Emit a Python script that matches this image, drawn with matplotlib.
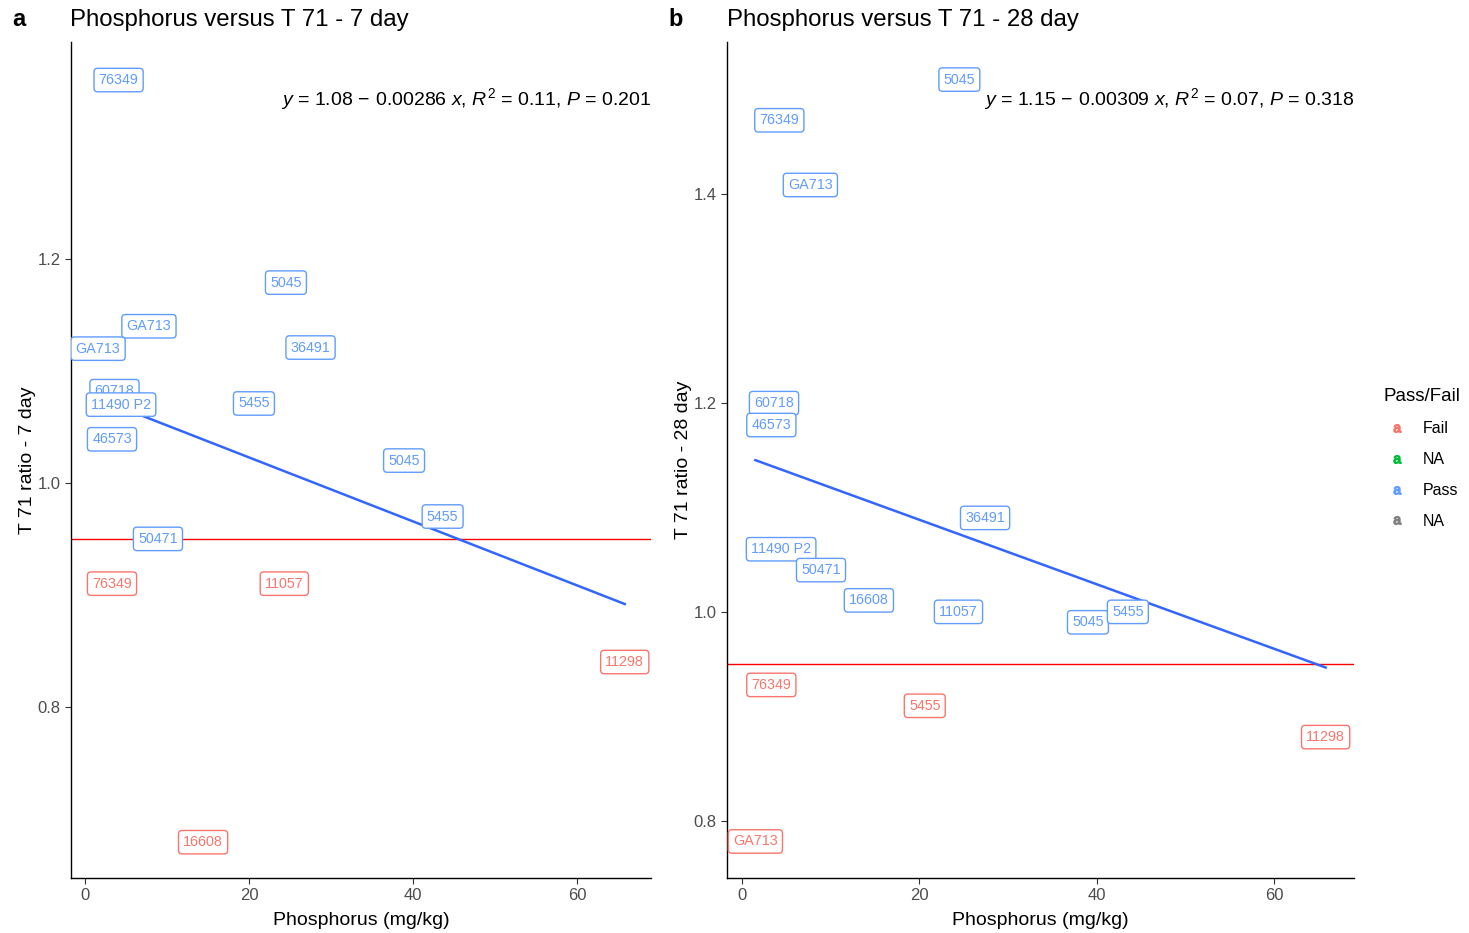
import numpy as np
import matplotlib
matplotlib.use("Agg")
import matplotlib.pyplot as plt
from matplotlib.lines import Line2D

plt.rcParams["font.family"] = ["Liberation Sans", "DejaVu Sans"]
plt.rcParams["mathtext.fontset"] = "custom"
plt.rcParams["mathtext.rm"] = "Liberation Sans"
plt.rcParams["mathtext.it"] = "Liberation Sans:italic"

PASS_COL = "#619CFF"
FAIL_COL = "#F8766D"

# panel a: T 71 ratio at 7 days (label positions as drawn)
a_names = ["76349", "5045", "GA713", "GA713", "36491", "60718", "11490 P2", "5455",
           "46573", "5045", "5455", "50471", "76349", "11057", "11298", "16608"]
a_x = [4.1, 24.5, 7.8, 1.6, 27.5, 3.6, 4.4, 20.6, 3.3, 38.9, 43.6, 8.9, 3.3, 24.3, 65.8, 14.4]
a_y = [1.360, 1.179, 1.140, 1.120, 1.121, 1.082, 1.070, 1.071, 1.039, 1.020, 0.970,
       0.950, 0.910, 0.910, 0.840, 0.679]
a_status = ["Pass"] * 12 + ["Fail"] * 4
a_fit = (1.08, -0.00286)

# panel b: T 71 ratio at 28 days
b_names = ["5045", "76349", "GA713", "60718", "46573", "36491", "11490 P2", "50471",
           "16608", "11057", "5045", "5455", "76349", "5455", "11298", "GA713"]
b_x = [24.5, 4.2, 7.7, 3.6, 3.3, 27.4, 4.4, 8.9, 14.3, 24.4, 39.0, 43.5, 3.3, 20.6, 65.8, 1.5]
b_y = [1.510, 1.471, 1.409, 1.200, 1.179, 1.090, 1.060, 1.040, 1.011, 1.000, 0.990,
       1.000, 0.930, 0.910, 0.880, 0.780]
b_status = ["Pass"] * 12 + ["Fail"] * 4
b_fit = (1.15, -0.00309)

threshold = 0.95


def draw_panel(ax, names, xs, ys, status, fit, ylim, yticks, ylabel, eq):
	ax.set_xlim(-1.7, 69.0)
	ax.set_ylim(*ylim)
	ax.axhline(threshold, color="red", lw=1.0, zorder=2)
	xl = np.linspace(min(xs), max(xs), 50)
	ax.plot(xl, fit[0] + fit[1] * xl, color="#3366FF", lw=1.8, zorder=3)
	for i, (n, x, y, s) in enumerate(zip(names, xs, ys, status)):
		c = PASS_COL if s == "Pass" else FAIL_COL
		ax.text(x, y, n, color=c, fontsize=10.3, ha="center", va="center",
			zorder=4 + i, clip_on=True,
			bbox=dict(boxstyle="round,pad=0.33,rounding_size=0.25", fc="white", ec=c, lw=1.0))
	ax.set_xticks([0, 20, 40, 60])
	ax.set_yticks(yticks)
	ax.set_yticklabels([f"{t:.1f}" for t in yticks])
	for side in ["top", "right"]:
		ax.spines[side].set_visible(False)
	for side in ["left", "bottom"]:
		ax.spines[side].set_linewidth(1.0)
	ax.tick_params(length=4, width=0.8, color="#333333", labelcolor="#4D4D4D", labelsize=12)
	ax.set_xlabel("Phosphorus (mg/kg)", fontsize=14, labelpad=6)
	ax.set_ylabel(ylabel, fontsize=14, labelpad=1)
	ax.text(1.0, 0.932, eq, transform=ax.transAxes, ha="right", va="center", fontsize=14)


fig = plt.figure(figsize=(14.69, 9.33), dpi=100)
ax1 = fig.add_axes([71 / 1469, 55 / 933, 580 / 1469, 836 / 933])
ax2 = fig.add_axes([727 / 1469, 55 / 933, 627 / 1469, 836 / 933])

draw_panel(ax1, a_names, a_x, a_y, a_status, a_fit, (0.647, 1.394), [0.8, 1.0, 1.2],
	"T 71 ratio - 7 day",
	r"$y$ = 1.08$\,-\,$0.00286 $x$, $R^2$ = 0.11, $P$ = 0.201")
draw_panel(ax2, b_names, b_x, b_y, b_status, b_fit, (0.745, 1.546), [0.8, 1.0, 1.2, 1.4],
	"T 71 ratio - 28 day",
	r"$y$ = 1.15$\,-\,$0.00309 $x$, $R^2$ = 0.07, $P$ = 0.318")

fig.text(12 / 1469, 1 - 20 / 933, "a", fontsize=17, fontweight="bold", va="center")
fig.text(70 / 1469, 1 - 20 / 933, "Phosphorus versus T 71 - 7 day", fontsize=17.3, va="center")
fig.text(668 / 1469, 1 - 20 / 933, "b", fontsize=17, fontweight="bold", va="center")
fig.text(727 / 1469, 1 - 20 / 933, "Phosphorus versus T 71 - 28 day", fontsize=17.3, va="center")

legend_labels = ["Fail", "NA", "Pass", "NA"]
legend_colors = [FAIL_COL, "#00BA38", PASS_COL, "#7F7F7F"]
handles = [Line2D([], [], ls="none", marker=r"$\mathrm{a}$", markersize=5.5, color=c)
	for c in legend_colors]
fig.legend(handles, legend_labels, title="Pass/Fail", loc="upper left",
	bbox_to_anchor=(1380 / 1469, 1 - 385 / 933), frameon=False, fontsize=11.5,
	title_fontsize=13.5, labelspacing=1.0, handlelength=1.75, handletextpad=0.75,
	borderpad=0.2, borderaxespad=0, alignment="left")

fig.savefig("out.png", dpi=100)
